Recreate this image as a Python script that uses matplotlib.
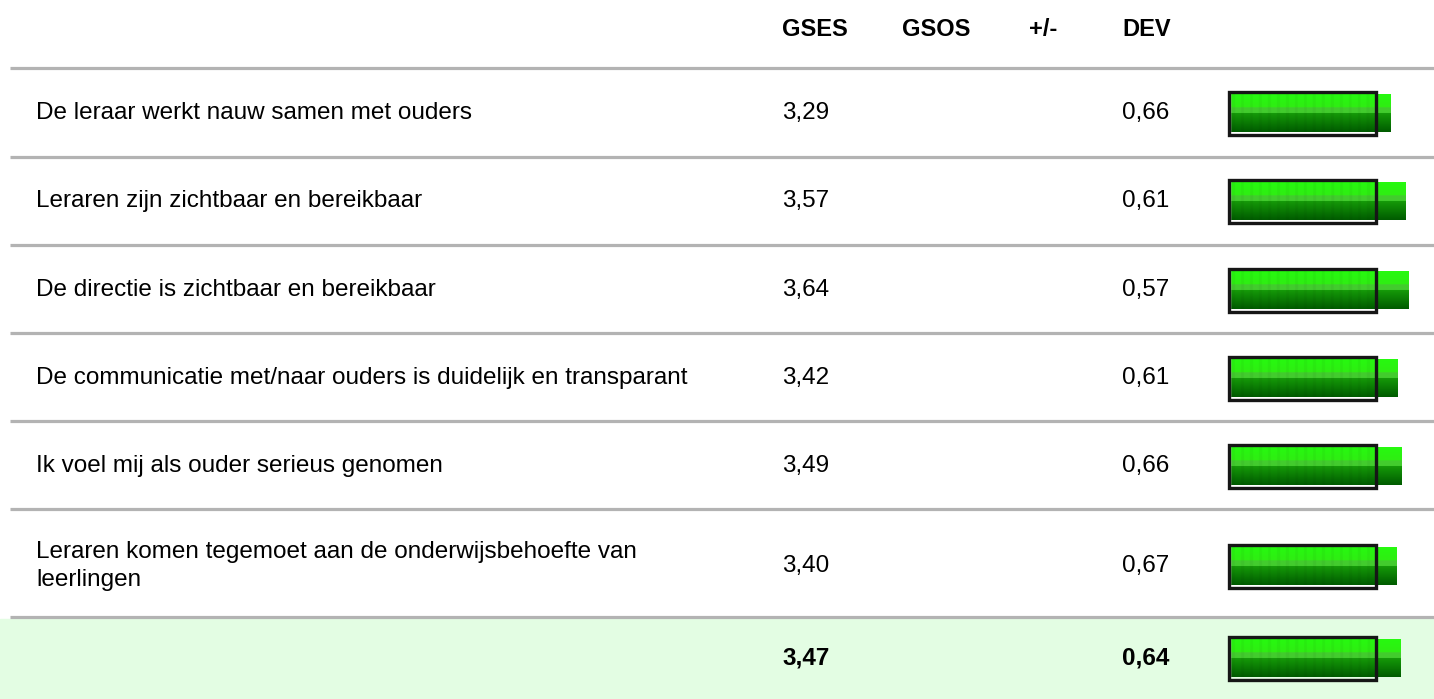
import numpy as np
import matplotlib.pyplot as plt
from matplotlib.patches import Rectangle

plt.rcParams['font.family'] = ['Liberation Sans', 'DejaVu Sans']

headers = ['GSES', 'GSOS', '+/-', 'DEV']
labels = ['De leraar werkt nauw samen met ouders',
          'Leraren zijn zichtbaar en bereikbaar',
          'De directie is zichtbaar en bereikbaar',
          'De communicatie met/naar ouders is duidelijk en transparant',
          'Ik voel mij als ouder serieus genomen',
          'Leraren komen tegemoet aan de onderwijsbehoefte van\nleerlingen']
gses = [3.29, 3.57, 3.64, 3.42, 3.49, 3.40]
dev = [0.66, 0.61, 0.57, 0.61, 0.66, 0.67]
total_gses = 3.47
total_dev = 0.64

W, H = 1434, 699
fig = plt.figure(figsize=(W / 100, H / 100), dpi=100)
ax = fig.add_axes([0, 0, 1, 1])
ax.set_xlim(0, W)
ax.set_ylim(H, 0)
ax.axis('off')

# layout (pixels)
row_y = [113, 201, 290, 378, 466, 566]
total_y = 658
line_y = [68, 157, 245, 333, 421, 509, 617]
hdr_x = [782, 902, 1029, 1122]
fs = 17.5

ax.add_patch(Rectangle((0, 619), W, H - 619, color='#e3fde3', zorder=0))
for ly in line_y:
    ax.plot([10, W], [ly, ly], color='#b3b3b3', lw=2.3, solid_capstyle='butt')

for x, h in zip(hdr_x, headers):
    ax.text(x, 30, h, fontsize=fs - 0.5, fontweight='bold', va='center', ha='left')

for y, lab, g, d in zip(row_y, labels, gses, dev):
    ax.text(36, y, lab, fontsize=fs, va='center', ha='left', linespacing=1.3)
    ax.text(hdr_x[0], y, f'{g:.2f}'.replace('.', ','), fontsize=fs, va='center')
    ax.text(hdr_x[3], y, f'{d:.2f}'.replace('.', ','), fontsize=fs, va='center')

ax.text(hdr_x[0], total_y, f'{total_gses:.2f}'.replace('.', ','), fontsize=fs,
        fontweight='bold', va='center')
ax.text(hdr_x[3], total_y, f'{total_dev:.2f}'.replace('.', ','), fontsize=fs,
        fontweight='bold', va='center')

# bar column: value scale
v0 = 0.18
px_per = 51.4
left_px = 1218
bx = fig.add_axes([left_px / W, 0, (W - left_px) / W, 1])
bx.set_xlim(v0 - (1231 - left_px) / px_per, v0 + (W - 1231) / px_per)
bx.set_ylim(H, 0)
bx.axis('off')
bx.patch.set_alpha(0)

# gradient image for bar
nh = 40
top = np.linspace([0.15, 0.98, 0.06], [0.20, 0.91, 0.08], nh // 2)
top[-6:] = [0.26, 0.80, 0.18]
bot = np.linspace([0.08, 0.60, 0.03], [0.00, 0.36, 0.00], nh // 2)
grad = np.vstack([top, bot])

bar_h = 38
for y, v in zip(row_y + [total_y], gses + [total_gses]):
    img = np.repeat(grad[:, None, :], 300, axis=1)
    xs = np.linspace(v0, v, 300)
    inbox = xs <= 3.0
    stripe = 1 - 0.04 * (np.sin((xs - v0) * px_per * 2 * np.pi / 9.0) > 0.5)
    img = img * np.where(inbox, stripe, 1.0)[None, :, None]
    bx.imshow(np.clip(img, 0, 1), extent=(v0, v, y + bar_h / 2, y - bar_h / 2),
              aspect='auto', interpolation='bilinear', zorder=2)
    # box marking value 3.0
    bx.add_patch(Rectangle((v0 - 0.02, y - 21.5), 3.0 - v0 + 0.02, 43, fill=False,
                           ec='white', lw=1.0, zorder=3))
    bx.add_patch(Rectangle((v0 - 0.03, y - 21.5), 3.0 - v0 + 0.03, 43, fill=False,
                           ec='#161616', lw=2.4, zorder=4))

fig.savefig('out.png', dpi=100)
